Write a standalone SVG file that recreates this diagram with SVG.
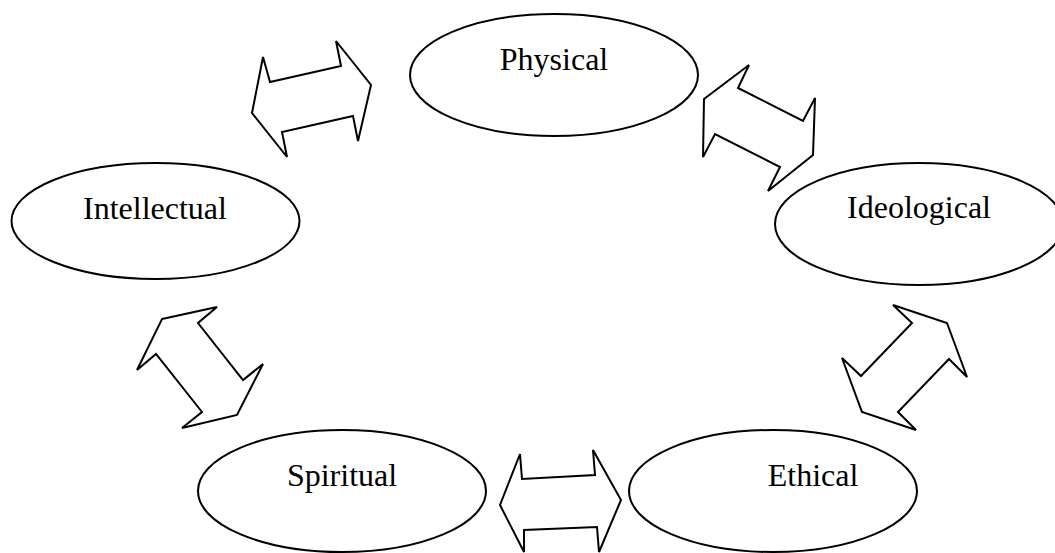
<svg xmlns="http://www.w3.org/2000/svg" width="1055" height="553" viewBox="0 0 1055 553">
<style>
.n ellipse{fill:#fff;stroke:#000;stroke-width:2}
.n text{font-family:"Liberation Serif","Times New Roman",serif;font-size:32px;fill:#000;text-anchor:middle}
.c polygon{fill:#fff;stroke:#000;stroke-width:2;stroke-linejoin:miter}
</style>
<rect width="1055" height="553" fill="#fff"/>
<g class="c" id="connectors">
<polygon points="252,113 263,57 270,82 341,66 336,41 371,85 358,141 353,116 282,132 287,157"/>
<polygon points="704,99 749,65 738,88 803,121 815,98 813,155 768,191 780,167 715,134 703,157"/>
<polygon points="162,319 217,307 198,323 243,380 263,364 237,415 182,428 202,412 156,354 137,370"/>
<polygon points="947,323 967,377 949,359 898,412 916,430 862,412 842,358 861,376 912,323 893,305"/>
<polygon points="500,505 520,454 522,479 595,475 593,450 621,500 599,552 597,527 524,530 524,552"/>
</g>
<g class="n" id="physical"><ellipse cx="554" cy="75" rx="144" ry="61"/><text x="554" y="70">Physical</text></g>
<g class="n" id="intellectual"><ellipse cx="155.5" cy="221" rx="144" ry="58"/><text x="155" y="219">Intellectual</text></g>
<g class="n" id="ideological"><ellipse cx="919" cy="224" rx="144" ry="61"/><text x="919" y="218">Ideological</text></g>
<g class="n" id="spiritual"><ellipse cx="342" cy="491" rx="144" ry="61"/><text x="342" y="486">Spiritual</text></g>
<g class="n" id="ethical"><ellipse cx="773" cy="491" rx="144" ry="61"/><text x="813" y="486">Ethical</text></g>
</svg>
